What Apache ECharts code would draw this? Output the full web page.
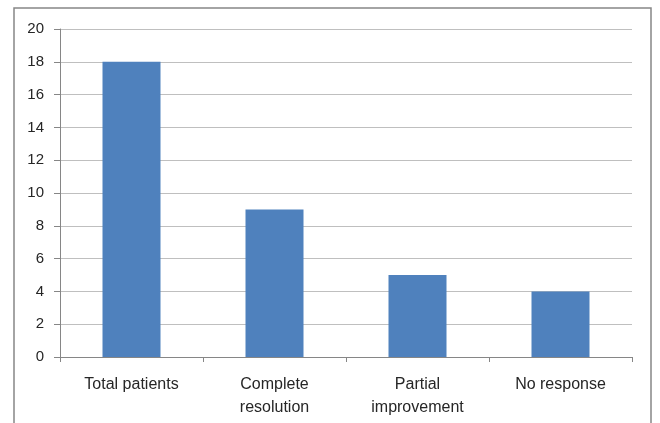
<!DOCTYPE html>
<html>
<head>
<meta charset="utf-8">
<script src="https://cdn.jsdelivr.net/npm/echarts@6/dist/echarts.min.js"></script>
<style>
  html, body { margin: 0; padding: 0; background: #ffffff; }
  #chart { width: 660px; height: 423px; }
</style>
</head>
<body>
<div id="chart"></div>
<script>
// Treatment outcome counts
const categories = ['Total patients', 'Complete\nresolution', 'Partial\nimprovement', 'No response'];
const patientCounts = [18, 9, 5, 4];
const yTicks = { min: 0, max: 20, interval: 2 };

const chart = echarts.init(document.getElementById('chart'), null, { renderer: 'canvas' });
const fontFamily = '"Liberation Sans", Arial, sans-serif';

chart.setOption({
  animation: false,
  backgroundColor: '#ffffff',
  graphic: [{
    type: 'rect',
    shape: { x: 14, y: 8, width: 637, height: 440 },
    style: { fill: 'none', stroke: '#878787', lineWidth: 1.5 },
    silent: true
  }],
  grid: { left: 60, right: 28, top: 29, bottom: 66, containLabel: false },
  xAxis: {
    type: 'category',
    data: categories,
    axisLine: { lineStyle: { color: '#868686', width: 1 } },
    axisTick: { show: true, length: 5, lineStyle: { color: '#868686' } },
    axisLabel: {
      color: '#262626',
      fontFamily: fontFamily,
      fontSize: 16,
      lineHeight: 23,
      margin: 16,
      verticalAlign: 'top',
      interval: 0
    }
  },
  yAxis: {
    type: 'value',
    min: yTicks.min,
    max: yTicks.max,
    interval: yTicks.interval,
    axisLine: { show: true, lineStyle: { color: '#868686', width: 1 } },
    axisTick: { show: true, length: 6, lineStyle: { color: '#868686' } },
    axisLabel: {
      color: '#262626',
      fontFamily: fontFamily,
      fontSize: 15,
      margin: 16
    },
    splitLine: { lineStyle: { color: '#bfbfbf', width: 1 } }
  },
  series: [{
    type: 'bar',
    data: patientCounts,
    barWidth: 58,
    itemStyle: { color: '#4f81bd' }
  }]
});
</script>
</body>
</html>
